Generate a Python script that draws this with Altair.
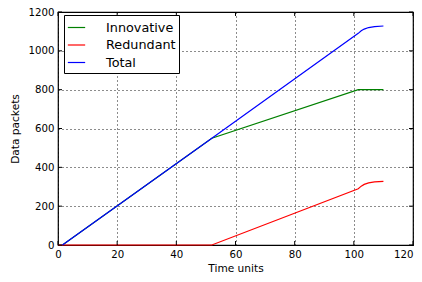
import altair as alt
import pandas as pd

# ---- data ----
total_t = [1.5, 52, 101.5, 102.5, 103.5, 105, 107, 110]
total_v = [0, 550, 1090, 1103, 1112, 1120, 1125, 1128]

innov_t = [1.5, 52, 101.5, 110]
innov_v = [0, 550, 800, 800]

redun_t = [0, 52, 101.5, 102.5, 103.5, 105, 107, 110]
redun_v = [0, 0, 290, 303, 312, 320, 325, 328]

series = ["Innovative", "Redundant", "Total"]
colors = ["#008000", "#ff0000", "#0000ff"]

x_ticks = [0, 20, 40, 60, 80, 100, 120]
y_ticks = [0, 200, 400, 600, 800, 1000, 1200]

rows = []
for name, ts, vs in [("Innovative", innov_t, innov_v),
                     ("Redundant", redun_t, redun_v),
                     ("Total", total_t, total_v)]:
    for i, (t, v) in enumerate(zip(ts, vs)):
        rows.append({"series": name, "t": t, "v": v, "order": i})
df = pd.DataFrame(rows)

W, H = 355, 233
FONT = "DejaVu Sans"

xs = alt.Scale(domain=[0, 120], nice=False)
ys = alt.Scale(domain=[0, 1200], nice=False)

x_axis = alt.Axis(values=x_ticks, grid=True, ticks=False, domain=False,
                  format="d", labelOverlap=False,
                  labelAlign=alt.condition("datum.value == 120",
                                           alt.value("right"), alt.value("center")),
                  labelPadding=4, titlePadding=4, labelFlush=False)
y_axis = alt.Axis(values=y_ticks, grid=True, ticks=False, domain=False,
                  format="d", labelOverlap=False,
                  labelPadding=4, titlePadding=8, labelFlush=False)

lines = alt.Chart(df).mark_line(strokeWidth=1.2).encode(
    x=alt.X("t:Q", scale=xs, title="Time units", axis=x_axis),
    y=alt.Y("v:Q", scale=ys, title="Data packets", axis=y_axis),
    color=alt.Color("series:N",
                    scale=alt.Scale(domain=series, range=colors),
                    legend=alt.Legend(title=None, orient="none", legendX=6, legendY=3,
                                      symbolType="stroke", symbolSize=300,
                                      symbolStrokeWidth=1.2,
                                      labelFontSize=12.8, labelFont=FONT,
                                      labelColor="black",
                                      labelOffset=20, rowPadding=0.5,
                                      padding=3, strokeColor="black",
                                      fillColor="white", cornerRadius=0)),
    order="order:Q",
)

xt = pd.DataFrame({"x": x_ticks})
yt = pd.DataFrame({"y": y_ticks})

xb = alt.Chart(xt).mark_rule(color="black").encode(
    x=alt.X("x:Q", scale=xs, title="Time units", axis=x_axis),
    y=alt.value(H), y2=alt.value(H - 4))
xtp = alt.Chart(xt).mark_rule(color="black").encode(
    x=alt.X("x:Q", scale=xs, title="Time units", axis=x_axis),
    y=alt.value(0), y2=alt.value(4))
yl = alt.Chart(yt).mark_rule(color="black").encode(
    y=alt.Y("y:Q", scale=ys, title="Data packets", axis=y_axis),
    x=alt.value(0), x2=alt.value(4))
yr = alt.Chart(yt).mark_rule(color="black").encode(
    y=alt.Y("y:Q", scale=ys, title="Data packets", axis=y_axis),
    x=alt.value(W), x2=alt.value(W - 4))

chart = alt.layer(lines, xb, xtp, yl, yr).properties(
    width=W, height=H,
    autosize=alt.AutoSizeParams(type="none"),
    padding={"left": 50, "top": 4, "right": 1, "bottom": 28},
).configure_view(
    stroke="black", strokeWidth=1.2
).configure_axis(
    gridColor="black", gridDash=[1, 3], gridWidth=1, gridOpacity=0.9,
    labelFont=FONT, labelFontSize=10.2, labelColor="black",
    titleFont=FONT, titleFontSize=10.6, titleFontWeight="normal", titleColor="black",
)

chart.save("out.html", embed_options={"renderer": "svg", "actions": False})
